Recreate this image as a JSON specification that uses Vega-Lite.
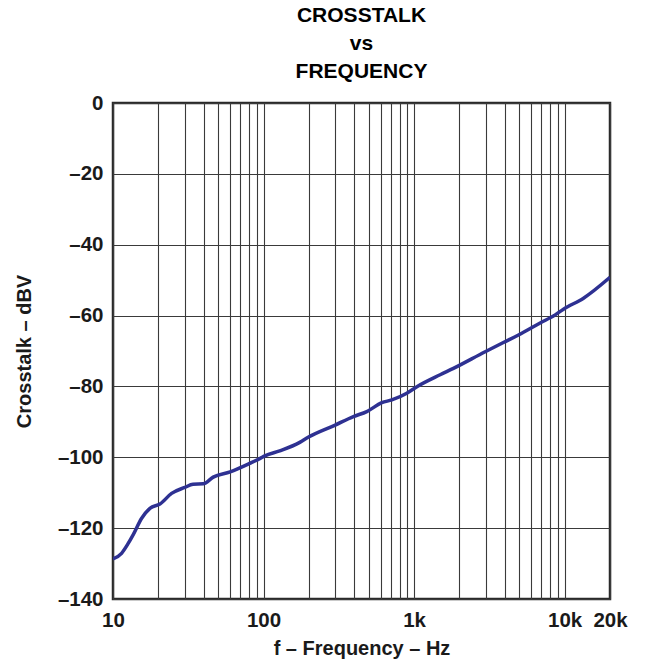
{
  "$schema": "https://vega.github.io/schema/vega-lite/v6.json",
  "autosize": "none",
  "padding": {"left": 113, "top": 103, "right": 51, "bottom": 68},
  "width": 497,
  "height": 496,
  "background": "white",
  "title": {
    "text": ["CROSSTALK", "vs", "FREQUENCY"],
    "font": "Liberation Sans",
    "fontSize": 21,
    "fontWeight": "bold",
    "lineHeight": 28,
    "color": "black",
    "anchor": "middle",
    "offset": 11
  },
  "config": {
    "view": {"stroke": "#2a2a2a", "strokeWidth": 2.5},
    "axis": {
      "labelFont": "Liberation Sans",
      "labelFontSize": 20.5,
      "labelFontWeight": "bold",
      "labelColor": "#1a1a1a",
      "titleFont": "Liberation Sans",
      "titleFontSize": 20,
      "titleFontWeight": "bold",
      "titleColor": "#1a1a1a",
      "domain": false,
      "ticks": false,
      "gridColor": "#3a3a3a",
      "gridOpacity": 1,
      "gridWidth": 1.1
    }
  },
  "data": {
    "values": [
      {"f": 10, "dbv": -128.7},
      {"f": 11.4, "dbv": -127.1},
      {"f": 12.5, "dbv": -124.6},
      {"f": 13.6, "dbv": -121.9},
      {"f": 15.5, "dbv": -117.2},
      {"f": 17.6, "dbv": -114.4},
      {"f": 20.5, "dbv": -113.2},
      {"f": 24.5, "dbv": -110.2},
      {"f": 30, "dbv": -108.5},
      {"f": 34, "dbv": -107.6},
      {"f": 39.8, "dbv": -107.5},
      {"f": 46.3, "dbv": -105.6},
      {"f": 60, "dbv": -104.1},
      {"f": 81, "dbv": -101.7},
      {"f": 95, "dbv": -100.3},
      {"f": 102, "dbv": -99.6},
      {"f": 128, "dbv": -98.2},
      {"f": 174, "dbv": -95.8},
      {"f": 199, "dbv": -94.3},
      {"f": 299, "dbv": -90.9},
      {"f": 395, "dbv": -88.5},
      {"f": 485, "dbv": -87.1},
      {"f": 610, "dbv": -84.6},
      {"f": 711, "dbv": -83.8},
      {"f": 894, "dbv": -81.9},
      {"f": 1050, "dbv": -80.0},
      {"f": 1489, "dbv": -76.7},
      {"f": 1824, "dbv": -74.9},
      {"f": 2965, "dbv": -70.2},
      {"f": 3917, "dbv": -67.6},
      {"f": 4931, "dbv": -65.5},
      {"f": 6871, "dbv": -62.1},
      {"f": 8650, "dbv": -59.8},
      {"f": 9816, "dbv": -58.2},
      {"f": 13340, "dbv": -55.1},
      {"f": 20000, "dbv": -49.2}
    ]
  },
  "mark": {"type": "line", "color": "#2E3192", "strokeWidth": 3.5, "interpolate": "monotone", "clip": true},
  "encoding": {
    "x": {
      "field": "f",
      "type": "quantitative",
      "scale": {"type": "log", "domain": [10, 20000], "nice": false},
      "axis": {
        "title": "f – Frequency – Hz",
        "titlePadding": 8,
        "labelPadding": 11,
        "labelOverlap": false,
        "labelFlush": false,
        "values": [10, 20, 30, 40, 50, 60, 70, 80, 90, 100, 200, 300, 400, 500, 600, 700, 800, 900, 1000, 2000, 3000, 4000, 5000, 6000, 7000, 8000, 9000, 10000, 20000],
        "labelExpr": "datum.value == 10 ? '10' : datum.value == 100 ? '100' : datum.value == 1000 ? '1k' : datum.value == 10000 ? '10k' : datum.value == 20000 ? '20k' : ''"
      }
    },
    "y": {
      "field": "dbv",
      "type": "quantitative",
      "scale": {"domain": [-140, 0], "nice": false},
      "axis": {
        "title": "Crosstalk – dBV",
        "titlePadding": 23,
        "labelPadding": 10,
        "values": [-140, -120, -100, -80, -60, -40, -20, 0],
        "labelExpr": "replace(datum.label, /[−-]/, '–')"
      }
    }
  }
}
